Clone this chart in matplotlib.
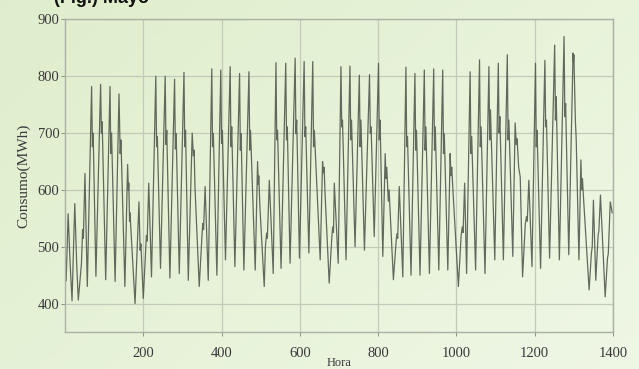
import numpy as np
import matplotlib.pyplot as plt

# turning points of the hourly load curve
hora = [0, 3, 8, 13, 18, 25, 30, 34, 42, 45, 47, 51, 57,
        68, 70, 72, 79, 91, 93, 95, 104, 115, 117, 119, 128,
        138, 141, 143, 153, 160, 162, 163, 165, 166, 179,
        189, 192, 194, 200, 208, 210, 214, 221,
        232, 234, 236, 244, 256, 258, 260, 268, 280, 282, 284, 292,
        304, 306, 308, 315, 325, 328, 330, 332, 343,
        350, 352, 354, 358, 366,
        375, 377, 379, 388, 398, 400, 402, 410, 422, 424, 426, 434,
        446, 448, 450, 457, 470, 472, 474, 486, 492, 494, 495, 498, 509,
        512, 515, 517, 522, 532,
        539, 541, 543, 552, 564, 566, 568, 575, 588, 590, 592, 599,
        611, 613, 615, 623, 633, 635, 637, 652, 658, 660, 662, 664, 675,
        682, 684, 686, 688, 698,
        705, 707, 709, 718, 728, 730, 732, 741, 752, 754, 756, 765,
        778, 780, 782, 790, 801, 803, 805, 812, 818, 820, 822, 826, 828, 839,
        846, 848, 850, 854, 863,
        871, 873, 875, 884, 894, 896, 898, 907, 918, 920, 922, 931,
        942, 944, 946, 955, 965, 967, 969, 978, 984, 986, 988, 992, 1005,
        1012, 1015, 1017, 1021, 1026,
        1035, 1037, 1039, 1049, 1059, 1061, 1063, 1073, 1083, 1085, 1087, 1098,
        1107, 1109, 1111, 1120, 1130, 1132, 1134, 1144,
        1150, 1153, 1155, 1159, 1163, 1169,
        1176, 1179, 1181, 1185, 1193,
        1202, 1204, 1206, 1215, 1226, 1228, 1230, 1238, 1251, 1253, 1255, 1263,
        1275, 1277, 1279, 1287, 1298, 1299, 1300, 1304, 1306, 1313,
        1318, 1320, 1322, 1324, 1339,
        1345, 1347, 1350, 1356, 1362, 1364, 1368, 1380, 1386, 1388, 1393, 1398]
consumo = [505, 440, 558, 472, 405, 576, 468, 406, 470, 530, 515, 629, 430,
           782, 676, 700, 448, 786, 700, 720, 442, 782, 664, 700, 439,
           769, 664, 688, 430, 645, 600, 612, 545, 560, 400,
           579, 494, 505, 409, 520, 510, 612, 447,
           800, 676, 694, 462, 800, 680, 705, 445, 795, 672, 699, 453,
           807, 676, 705, 441, 700, 660, 670, 606, 430,
           520, 541, 530, 606, 441,
           813, 676, 699, 450, 811, 682, 705, 477, 817, 676, 711, 465,
           805, 670, 699, 459, 808, 670, 705, 459, 650, 610, 625, 570, 430,
           500, 524, 515, 617, 453,
           824, 688, 705, 462, 823, 688, 711, 471, 832, 699, 723, 480,
           826, 694, 711, 489, 826, 676, 705, 477, 650, 630, 640, 600, 436,
           520, 535, 525, 612, 471,
           817, 711, 723, 477, 818, 688, 723, 500, 802, 676, 723, 494,
           803, 700, 711, 518, 823, 688, 723, 483, 664, 620, 640, 580, 600, 442,
           510, 523, 515, 606, 447,
           816, 676, 694, 450, 805, 670, 705, 450, 811, 670, 711, 453,
           813, 670, 711, 459, 811, 664, 699, 459, 664, 625, 640, 588, 430,
           520, 535, 525, 612, 453,
           808, 664, 694, 459, 829, 676, 711, 453, 817, 688, 741, 477,
           823, 700, 729, 477, 838, 688, 723, 483,
           718, 680, 690, 640, 623, 447,
           540, 553, 545, 617, 465,
           823, 676, 705, 462, 828, 711, 723, 480, 855, 723, 764, 477,
           870, 729, 752, 486, 841, 825, 838, 720, 690, 477,
           653, 600, 620, 594, 424,
           490, 500, 582, 441, 520, 529, 591, 412, 480, 488, 579, 560]

xticks = [200, 400, 600, 800, 1000, 1200, 1400]
yticks = [400, 500, 600, 700, 800, 900]

plt.rcParams['font.family'] = ['Liberation Serif', 'DejaVu Serif']

fig = plt.figure(figsize=(6.39, 3.69), dpi=100)

# light green gradient background
bg = fig.add_axes([0, 0, 1, 1], zorder=-10)
gx, gy = np.meshgrid(np.linspace(0, 1, 200), np.linspace(0, 1, 120))
g = (gx * 0.6 + gy * 0.4)
c1 = np.array([0.875, 0.933, 0.800])
c2 = np.array([0.937, 0.969, 0.898])
img = c1[None, None, :] * (1 - g[..., None]) + c2[None, None, :] * g[..., None]
bg.imshow(img, aspect='auto', extent=[0, 1, 0, 1])
bg.axis('off')

fig.text(0.085, 1.005, '(Fig.) Mayo', fontsize=13, fontweight='bold',
         family='Liberation Sans', va='center', color='#111111')

ax = fig.add_axes([0.1017, 0.1003, 0.8576, 0.8469])
ax.set_facecolor('none')
ax.plot(hora, consumo, color='#4a5147', lw=0.9, alpha=0.85)

ax.set_xlim(0, 1400)
ax.set_ylim(350, 900)
ax.set_xticks(xticks)
ax.set_yticks(yticks)
ax.grid(True, color='#c2cbb9', lw=0.9)
for s in ax.spines.values():
    s.set_color('#a9b0a4')
    s.set_linewidth(1.0)
ax.tick_params(length=3, width=0.7, color='#8a9086', labelsize=10.5,
               labelcolor='#3a3a3a', direction='out')
ax.tick_params(axis='x', pad=8)
ax.tick_params(axis='y', pad=1)
ax.set_xlabel('Hora', fontsize=9, color='#3a3a3a', labelpad=-2)
ax.set_ylabel('Consumo(MWh)', fontsize=11, color='#3a3a3a', labelpad=5)

fig.savefig('out.png', dpi=100)
